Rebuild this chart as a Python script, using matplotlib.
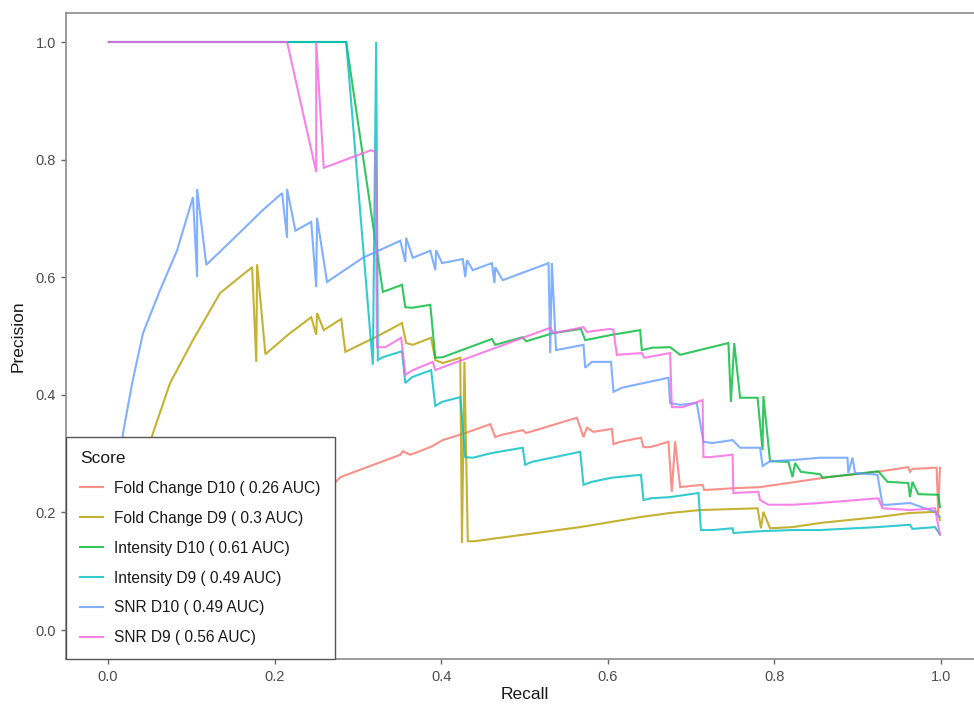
import matplotlib
matplotlib.use("Agg")
import matplotlib.pyplot as plt

plt.rcParams["font.family"] = ["Liberation Sans", "DejaVu Sans"]

# Precision-recall curves for each scoring method
fc_d10_recall = [0.02, 0.10, 0.20, 0.270, 0.279, 0.315, 0.351, 0.354, 0.363, 0.387, 0.402, 0.429,
                 0.459, 0.465, 0.473, 0.498, 0.502, 0.507, 0.563, 0.571, 0.575, 0.583, 0.605,
                 0.607, 0.615, 0.640, 0.643, 0.651, 0.673, 0.677, 0.681, 0.687, 0.714, 0.716,
                 0.750, 0.783, 0.865, 0.924, 0.961, 0.963, 0.966, 0.995, 0.997, 0.999]
fc_d10_precision = [0.03, 0.11, 0.19, 0.247, 0.260, 0.279, 0.298, 0.304, 0.298, 0.311, 0.323, 0.335,
                    0.350, 0.328, 0.332, 0.340, 0.335, 0.337, 0.361, 0.328, 0.344, 0.337, 0.342,
                    0.316, 0.320, 0.327, 0.311, 0.311, 0.320, 0.235, 0.321, 0.243, 0.247, 0.238,
                    0.241, 0.243, 0.260, 0.269, 0.277, 0.269, 0.274, 0.276, 0.199, 0.276]

fc_d9_recall = [0.012, 0.03, 0.054, 0.0745, 0.102, 0.1345, 0.173, 0.178, 0.179, 0.189, 0.216,
                0.244, 0.250, 0.251, 0.259, 0.280, 0.285, 0.295, 0.324, 0.353, 0.358, 0.366,
                0.388, 0.393, 0.402, 0.423, 0.425, 0.428, 0.432, 0.440, 0.567, 0.639, 0.675,
                0.711, 0.780, 0.784, 0.787, 0.795, 0.822, 0.855, 0.924, 0.963, 0.996, 0.999]
fc_d9_precision = [0.10, 0.22, 0.335, 0.420, 0.493, 0.573, 0.617, 0.456, 0.622, 0.469, 0.502,
                   0.532, 0.502, 0.539, 0.510, 0.529, 0.473, 0.480, 0.500, 0.522, 0.488, 0.485,
                   0.497, 0.459, 0.454, 0.463, 0.148, 0.456, 0.151, 0.151, 0.175, 0.192, 0.199,
                   0.204, 0.207, 0.173, 0.201, 0.173, 0.175, 0.182, 0.192, 0.199, 0.201, 0.187]

int_d10_recall = [0.001, 0.286, 0.330, 0.353, 0.357, 0.365, 0.387, 0.393, 0.402, 0.461, 0.465,
                  0.498, 0.502, 0.535, 0.568, 0.573, 0.605, 0.639, 0.641, 0.653, 0.675, 0.687,
                  0.745, 0.748, 0.752, 0.759, 0.780, 0.786, 0.787, 0.795, 0.817, 0.822, 0.825,
                  0.832, 0.855, 0.858, 0.889, 0.925, 0.936, 0.961, 0.963, 0.966, 0.973, 0.997,
                  0.999]
int_d10_precision = [1.0, 1.0, 0.575, 0.587, 0.549, 0.548, 0.553, 0.463, 0.464, 0.495, 0.485,
                     0.498, 0.491, 0.505, 0.512, 0.493, 0.502, 0.510, 0.476, 0.480, 0.481, 0.468,
                     0.488, 0.388, 0.488, 0.395, 0.395, 0.306, 0.398, 0.287, 0.286, 0.260, 0.284,
                     0.269, 0.265, 0.259, 0.264, 0.270, 0.252, 0.250, 0.226, 0.252, 0.231, 0.230,
                     0.209]

int_d9_recall = [0.001, 0.286, 0.318, 0.322, 0.324, 0.330, 0.353, 0.357, 0.365, 0.388, 0.393,
                 0.401, 0.423, 0.429, 0.438, 0.461, 0.498, 0.501, 0.509, 0.567, 0.571, 0.581,
                 0.605, 0.640, 0.643, 0.652, 0.675, 0.709, 0.712, 0.726, 0.750, 0.751, 0.783,
                 0.822, 0.855, 0.924, 0.963, 0.966, 0.993, 0.999]
int_d9_precision = [1.0, 1.0, 0.451, 1.0, 0.459, 0.464, 0.474, 0.420, 0.430, 0.442, 0.381,
                    0.388, 0.396, 0.294, 0.293, 0.301, 0.310, 0.281, 0.286, 0.303, 0.247, 0.252,
                    0.259, 0.264, 0.221, 0.224, 0.226, 0.233, 0.170, 0.170, 0.173, 0.165, 0.168,
                    0.170, 0.170, 0.175, 0.179, 0.172, 0.175, 0.163]

snr_d10_recall = [0.004, 0.010, 0.018, 0.029, 0.042, 0.0625, 0.083, 0.102, 0.107, 0.107, 0.118,
                  0.159, 0.185, 0.209, 0.215, 0.215, 0.225, 0.244, 0.250, 0.251, 0.263, 0.306,
                  0.351, 0.357, 0.358, 0.366, 0.387, 0.393, 0.394, 0.401, 0.426, 0.429, 0.431,
                  0.438, 0.461, 0.464, 0.465, 0.474, 0.529, 0.531, 0.533, 0.538, 0.571, 0.573,
                  0.581, 0.604, 0.607, 0.617, 0.673, 0.675, 0.687, 0.707, 0.715, 0.726, 0.750,
                  0.759, 0.783, 0.786, 0.795, 0.822, 0.855, 0.888, 0.889, 0.894, 0.897, 0.924,
                  0.930, 0.936, 0.963, 0.993, 0.999]
snr_d10_precision = [0.09, 0.20, 0.335, 0.420, 0.505, 0.578, 0.646, 0.736, 0.600, 0.750, 0.621,
                     0.677, 0.713, 0.743, 0.667, 0.750, 0.679, 0.694, 0.583, 0.701, 0.592, 0.633,
                     0.662, 0.626, 0.667, 0.633, 0.645, 0.612, 0.646, 0.624, 0.631, 0.600, 0.629,
                     0.612, 0.624, 0.590, 0.617, 0.595, 0.624, 0.471, 0.624, 0.476, 0.485, 0.446,
                     0.456, 0.456, 0.405, 0.412, 0.429, 0.386, 0.383, 0.386, 0.320, 0.318, 0.323,
                     0.310, 0.310, 0.279, 0.287, 0.289, 0.293, 0.293, 0.267, 0.293, 0.267, 0.264,
                     0.213, 0.213, 0.216, 0.201, 0.192]

snr_d9_recall = [0.001, 0.215, 0.250, 0.250, 0.259, 0.316, 0.321, 0.323, 0.333, 0.352, 0.357,
                 0.366, 0.390, 0.393, 0.402, 0.531, 0.535, 0.571, 0.575, 0.603, 0.607, 0.611,
                 0.641, 0.644, 0.675, 0.677, 0.690, 0.714, 0.715, 0.723, 0.750, 0.751, 0.781,
                 0.783, 0.793, 0.822, 0.855, 0.925, 0.930, 0.963, 0.993, 0.999]
snr_d9_precision = [1.0, 1.0, 0.779, 1.0, 0.786, 0.816, 0.813, 0.481, 0.481, 0.497, 0.434,
                    0.442, 0.456, 0.442, 0.447, 0.514, 0.505, 0.515, 0.507, 0.512, 0.510, 0.468,
                    0.471, 0.463, 0.471, 0.379, 0.379, 0.391, 0.294, 0.294, 0.298, 0.233, 0.235,
                    0.221, 0.213, 0.213, 0.216, 0.224, 0.207, 0.204, 0.207, 0.162]

score_labels = ["Fold Change D10 ( 0.26 AUC)", "Fold Change D9 ( 0.3 AUC)",
                "Intensity D10 ( 0.61 AUC)", "Intensity D9 ( 0.49 AUC)",
                "SNR D10 ( 0.49 AUC)", "SNR D9 ( 0.56 AUC)"]
score_colors = ["#F8766D", "#B79F00", "#00BA38", "#00BFC4", "#619CFF", "#F564E3"]

curves = [
    (fc_d10_recall, fc_d10_precision),
    (fc_d9_recall, fc_d9_precision),
    (int_d10_recall, int_d10_precision),
    (int_d9_recall, int_d9_precision),
    (snr_d10_recall, snr_d10_precision),
    (snr_d9_recall, snr_d9_precision),
]

W, H = 974, 704
fig = plt.figure(figsize=(W / 100, H / 100), dpi=100)
fig.patch.set_facecolor("white")
# panel spans recall/precision -0.05..1.05; right edge runs past the canvas
left_px, right_px, top_px, bottom_px = 66.4, 982.4, 12.6, 659.4
ax = fig.add_axes([left_px / W, 1 - bottom_px / H,
                   (right_px - left_px) / W, (bottom_px - top_px) / H])

handles = []
for (rec, prec), lab, col in zip(curves, score_labels, score_colors):
    ln, = ax.plot(rec, prec, color=col, lw=1.5, alpha=0.8, label=lab,
                  solid_joinstyle="miter")
    handles.append(ln)

ax.set_xlim(-0.05, 1.05)
ax.set_ylim(-0.05, 1.05)
ticks = [0.0, 0.2, 0.4, 0.6, 0.8, 1.0]
ax.set_xticks(ticks)
ax.set_yticks(ticks)
ax.set_xticklabels([f"{t:.1f}" for t in ticks])
ax.set_yticklabels([f"{t:.1f}" for t in ticks])
ax.tick_params(axis="both", length=3.5, width=1.0, color="#666666",
               labelcolor="#4D4D4D", labelsize=10.5, pad=4)

for s in ax.spines.values():
    s.set_color("#8A8A8A")
    s.set_linewidth(1.2)

ax.set_xlabel("Recall", fontsize=12.5, color="#1A1A1A", labelpad=2)
ax.set_ylabel("Precision", fontsize=12.5, color="#1A1A1A", labelpad=7)

leg = ax.legend(handles=handles, labels=score_labels, loc="lower left",
                bbox_to_anchor=(0, 0), bbox_transform=ax.transAxes,
                borderaxespad=0, title="Score", alignment="left",
                fontsize=11.2, title_fontsize=12.5, frameon=True, fancybox=False,
                framealpha=1, edgecolor="#555555", handlelength=1.45,
                handletextpad=0.72, borderpad=0.9, labelspacing=0.96)
leg.get_frame().set_linewidth(1.0)
for t in leg.get_texts():
    t.set_color("#1A1A1A")
leg.get_title().set_color("#1A1A1A")

fig.savefig("out.png", dpi=100, facecolor="white")
